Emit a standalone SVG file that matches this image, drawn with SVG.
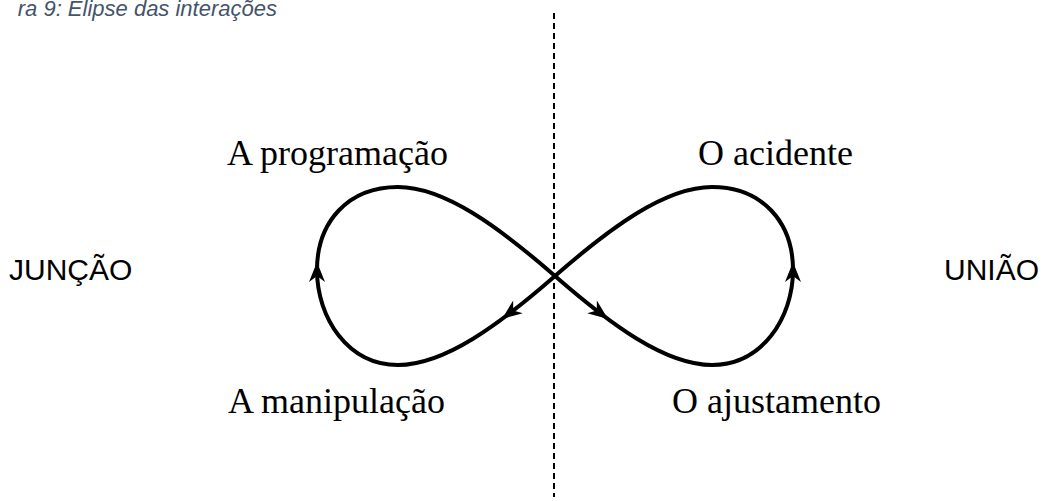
<svg xmlns="http://www.w3.org/2000/svg" width="1044" height="501" viewBox="0 0 1044 501">
  <style>
    .serif { font-family: "Liberation Serif", "Times New Roman", serif; font-size: 36px; fill: #000; }
    .sans { font-family: "Liberation Sans", Arial, sans-serif; font-size: 30px; fill: #000; }
    .caption { font-family: "Liberation Sans", Arial, sans-serif; font-size: 22px; font-style: italic; fill: #44546A; }
    .loop { fill: none; stroke: #000; stroke-width: 4; stroke-linejoin: round; }
    .divider { fill: none; stroke: #000; stroke-width: 2; stroke-dasharray: 6 4; }
  </style>
  <defs>
    <path id="ah" d="M0,0 L-20,-8 L-14,0 L-20,8 Z" fill="#000"/>
  </defs>
  <rect width="1044" height="501" fill="#fff"/>
  <text class="caption" x="277" y="16" text-anchor="end">ra 9: Elipse das interações</text>
  <g id="divider">
    <line class="divider" x1="554" y1="13" x2="554" y2="497"/>
  </g>
  <g id="connectors">
    <path class="loop" d="M555,276 C610,324 665,365 712,365 C762,365 793,318 793,270 C793,222 762,187 712,187 C665,187 610,228 555,276 C500,324 445,365 398,365 C348,365 317,318 317,270 C317,222 348,187 398,187 C445,187 500,228 555,276 Z"/>
    <use href="#ah" transform="translate(608,319) rotate(37)"/>
    <use href="#ah" transform="translate(793,262) rotate(-90)"/>
    <use href="#ah" transform="translate(502,319) rotate(143)"/>
    <use href="#ah" transform="translate(317,262) rotate(-90)"/>
  </g>
  <g id="node-programacao"><text class="serif" x="227" y="165">A programação</text></g>
  <g id="node-acidente"><text class="serif" x="698" y="165">O acidente</text></g>
  <g id="node-manipulacao"><text class="serif" x="228" y="413">A manipulação</text></g>
  <g id="node-ajustamento"><text class="serif" x="672" y="413">O ajustamento</text></g>
  <g id="node-juncao"><text class="sans" x="9" y="280">JUNÇÃO</text></g>
  <g id="node-uniao"><text class="sans" x="944" y="280">UNIÃO</text></g>
</svg>
